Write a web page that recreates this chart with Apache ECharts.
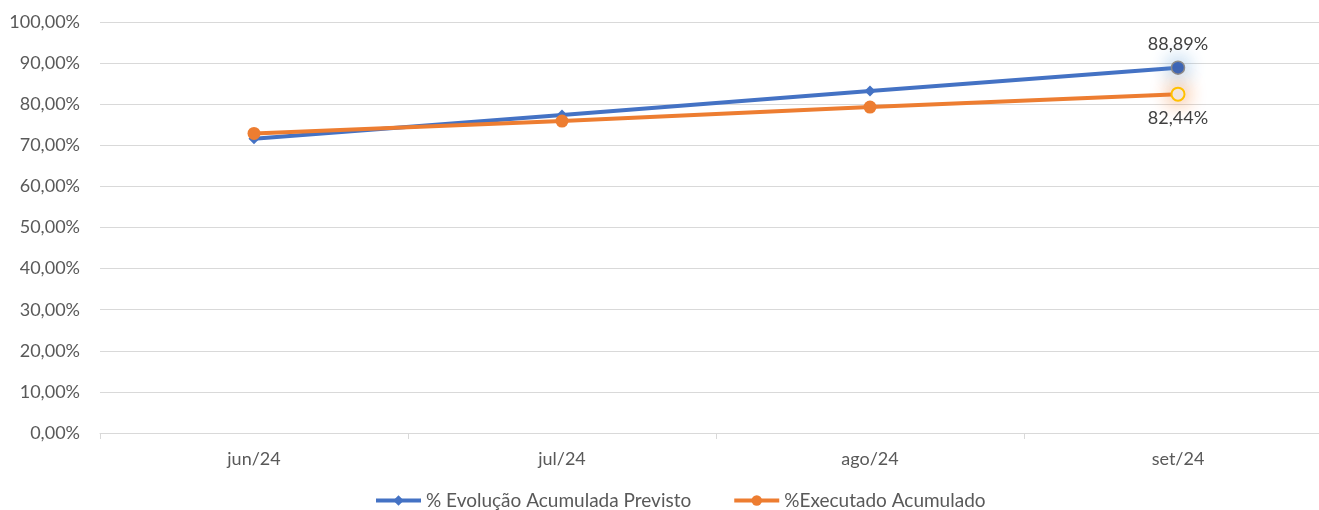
<!DOCTYPE html>
<html>
<head>
<meta charset="utf-8">
<script src="https://cdn.jsdelivr.net/npm/echarts@6/dist/echarts.min.js"></script>
<style>
  html, body { margin: 0; padding: 0; background: #fff; overflow: hidden; }
</style>
</head>
<body>
<!-- plot runs past the right edge in the original, so the div is wider than the window -->
<div id="chart" style="width:1332px;height:510px;"></div>
<script>
const categories = ["jun/24", "jul/24", "ago/24", "set/24"];
const previsto = [71.6, 77.4, 83.2, 88.89];
const executado = [72.9, 75.9, 79.3, 82.44];
const yTicks = [0, 10, 20, 30, 40, 50, 60, 70, 80, 90, 100];

const fmt = v => v.toFixed(2).replace(".", ",") + "%";

// last point gets the highlighted look
function withLast(arr, lastStyle, labelPos, dist) {
  return arr.map((v, i) => {
    if (i !== arr.length - 1) return v;
    return {
      value: v,
      symbol: "circle",
      symbolSize: 13,
      itemStyle: lastStyle,
      label: {
        show: true,
        position: labelPos,
        distance: dist,
        formatter: p => fmt(p.value),
        color: "#404040",
        fontSize: 18,
        fontFamily: "Lato"
      }
    };
  });
}

let myChart = echarts.init(document.getElementById("chart"));
myChart.setOption({
  animation: false,
  textStyle: { fontFamily: "Lato" },
  grid: { left: 100, right: 0, top: 22, bottom: 77, containLabel: false },
  legend: {
    top: 486,
    left: 369,
    itemWidth: 45,
    itemHeight: 13,
    itemGap: 41,
    lineStyle: { width: 4 },
    textStyle: { color: "#595959", fontSize: 19, fontFamily: "Lato" },
    data: ["% Evolução Acumulada Previsto", "%Executado Acumulado"]
  },
  xAxis: {
    type: "category",
    data: categories,
    boundaryGap: true,
    axisLine: { lineStyle: { color: "#d9d9d9", width: 1 } },
    axisTick: { show: true, length: 6, lineStyle: { color: "#d9d9d9" } },
    axisLabel: { color: "#595959", fontSize: 18, margin: 17 }
  },
  yAxis: {
    type: "value",
    min: yTicks[0],
    max: yTicks[yTicks.length - 1],
    interval: 10,
    axisLine: { show: false },
    axisTick: { show: false },
    splitLine: { lineStyle: { color: "#d9d9d9", width: 1 } },
    axisLabel: { color: "#595959", fontSize: 18, margin: 20, formatter: v => fmt(v) }
  },
  series: [
    {
      name: "% Evolução Acumulada Previsto",
      type: "line",
      symbol: "diamond",
      symbolSize: 11,
      color: "#4472C4",
      lineStyle: { width: 4, color: "#4472C4" },
      itemStyle: { color: "#4472C4" },
      data: withLast(previsto, {
        color: "#3a62b5",
        borderColor: "#8c8c8c",
        borderWidth: 1.5,
        shadowColor: "rgba(91,155,213,1)",
        shadowBlur: 20
      }, "top", 7)
    },
    {
      name: "%Executado Acumulado",
      type: "line",
      symbol: "circle",
      symbolSize: 13,
      color: "#ED7D31",
      lineStyle: { width: 4, color: "#ED7D31" },
      itemStyle: { color: "#ED7D31" },
      data: withLast(executado, {
        color: "#f2f2f2",
        borderColor: "#ffc000",
        borderWidth: 2,
        shadowColor: "rgba(237,125,49,1)",
        shadowBlur: 20
      }, "bottom", 8)
    }
  ]
});
</script>
</body>
</html>
